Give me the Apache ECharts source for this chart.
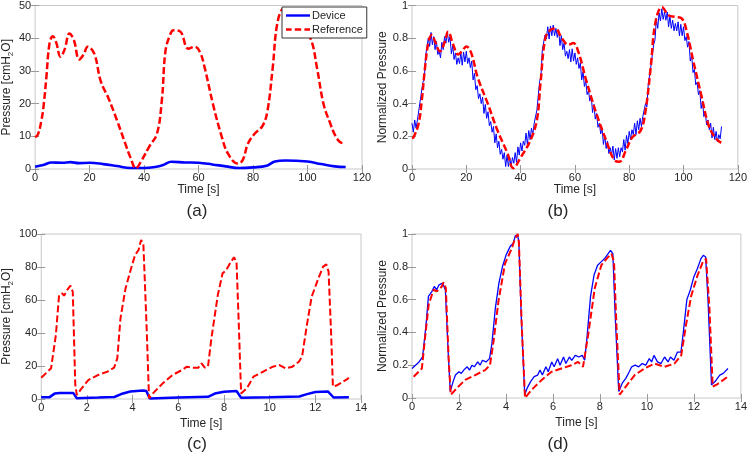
<!DOCTYPE html>
<html>
<head>
<meta charset="utf-8">
<script src="https://cdn.jsdelivr.net/npm/echarts@6/dist/echarts.min.js"></script>
<style>
  html, body { margin: 0; padding: 0; background: #fff; }
  #main { width: 750px; height: 455px; }
</style>
</head>
<body>
<div id="main"></div>
<script>
// ---- (a) pressure over a slow breathing run, cmH2O ----
const refA = [
  [0, 9.7], [1, 10.5], [2.3, 14.8], [3.2, 20], [4.1, 27.8], [5.3, 38.5], [6.5, 40.6], [7.8, 38.5],
  [9.3, 34.3], [10.8, 36.5], [12.6, 41.4], [14.2, 39.5], [16.2, 33.5], [17.8, 35], [19.3, 37.4],
  [21.7, 35.3], [24.1, 26.8], [27, 21.5], [30, 15], [33, 8], [35, 3.5], [37, 0.2], [39, 2.5],
  [42, 7], [44.7, 10.7], [46.5, 20.8], [47.8, 35.8], [49.3, 40.5], [50.8, 42.4], [53.3, 42],
  [56.2, 36.8], [58.6, 37.4], [60.5, 35.8], [62.3, 30.8], [65.3, 19.8], [68.4, 10.2], [70.8, 4.7],
  [74.4, 1.7], [76.2, 2.7], [78.1, 7.7], [80.5, 10.7], [83.5, 13.2], [85.3, 17.8], [87.2, 30.8],
  [89, 44.9], [91.4, 49.1], [93, 48.8], [95, 46.5], [97.5, 43.5], [101.1, 39.9], [103.5, 30.8],
  [105.9, 19.8], [108.4, 13.8], [110.2, 10.2], [112, 8.2], [113.6, 7.9]
];
const devA = [
  [0, 0.7], [3, 1.2], [6, 2.0], [10, 1.9], [13, 2.1], [16, 1.8], [20, 1.9], [25, 1.5], [30, 0.9],
  [35, 0.3], [40, 0.3], [44, 0.6], [47, 1.2], [50, 2.2], [55, 2.0], [60, 1.9], [65, 1.4], [70, 0.8],
  [75, 0.3], [80, 0.5], [85, 1.0], [88, 2.3], [92, 2.6], [96, 2.5], [100, 2.3], [105, 1.5],
  [110, 0.8], [114, 0.6]
];

// ---- (b) normalized ----
const refB = [
  [0, 0.19], [0.6, 0.195], [2.4, 0.275], [3.6, 0.42], [4.8, 0.62], [6.1, 0.78], [7.3, 0.82],
  [8.5, 0.78], [10.3, 0.72], [12.1, 0.78], [13.3, 0.84], [15.2, 0.76], [17, 0.70], [18.4, 0.72],
  [20, 0.75], [21.8, 0.71], [24.2, 0.56], [27.9, 0.40], [31.5, 0.235], [35.2, 0.095], [37.3, 0.005],
  [40, 0.07], [43.6, 0.175], [46, 0.3], [47.3, 0.52], [49.1, 0.8], [50.9, 0.85], [52.7, 0.86],
  [55.2, 0.80], [57.6, 0.76], [59.4, 0.77], [61.2, 0.72], [64.2, 0.54], [67.9, 0.34], [71.5, 0.175],
  [74.5, 0.055], [76.4, 0.045], [78.8, 0.115], [81.2, 0.195], [84.2, 0.235], [86, 0.355],
  [87.9, 0.62], [89.7, 0.9], [92.1, 0.99], [94.5, 0.94], [97, 0.93], [99.4, 0.92], [101.2, 0.84],
  [103.6, 0.66], [106.7, 0.44], [109.1, 0.275], [111.5, 0.195], [113.9, 0.16]
];
// device trace, one sample every 0.5 s
const devBStep = 0.5;
const devB = [
  0.28, 0.225, 0.30, 0.25, 0.30, 0.29, 0.415, 0.41, 0.53, 0.545, 0.69, 0.695, 0.80, 0.75, 0.835, 0.76,
  0.81, 0.73, 0.78, 0.70, 0.72, 0.68, 0.775, 0.73, 0.81, 0.77, 0.84, 0.775, 0.81, 0.705, 0.755, 0.67,
  0.71, 0.64, 0.68, 0.645, 0.71, 0.635, 0.715, 0.655, 0.72, 0.645, 0.68, 0.62, 0.66, 0.545, 0.585, 0.485,
  0.51, 0.43, 0.46, 0.40, 0.44, 0.34, 0.395, 0.31, 0.35, 0.265, 0.29, 0.225, 0.26, 0.16, 0.215, 0.13,
  0.17, 0.09, 0.12, 0.06, 0.10, 0.015, 0.085, 0.015, 0.07, 0.015, 0.07, 0.035, 0.10, 0.04, 0.135, 0.085,
  0.16, 0.11, 0.17, 0.145, 0.22, 0.15, 0.235, 0.18, 0.25, 0.21, 0.28, 0.27, 0.36, 0.37, 0.535, 0.57,
  0.73, 0.72, 0.82, 0.795, 0.87, 0.795, 0.875, 0.815, 0.88, 0.815, 0.86, 0.805, 0.85, 0.755, 0.815, 0.73,
  0.77, 0.69, 0.72, 0.675, 0.73, 0.655, 0.735, 0.66, 0.71, 0.64, 0.68, 0.615, 0.65, 0.545, 0.595, 0.505,
  0.54, 0.455, 0.48, 0.415, 0.45, 0.345, 0.395, 0.305, 0.34, 0.255, 0.28, 0.215, 0.25, 0.15, 0.205, 0.125,
  0.17, 0.095, 0.13, 0.085, 0.14, 0.055, 0.125, 0.065, 0.13, 0.075, 0.13, 0.105, 0.18, 0.115, 0.205, 0.155,
  0.23, 0.18, 0.24, 0.21, 0.28, 0.21, 0.295, 0.24, 0.31, 0.26, 0.32, 0.31, 0.40, 0.38, 0.515, 0.51,
  0.63, 0.64, 0.76, 0.79, 0.92, 0.86, 0.955, 0.905, 0.98, 0.915, 0.96, 0.91, 0.96, 0.87, 0.935, 0.86,
  0.91, 0.845, 0.89, 0.845, 0.90, 0.815, 0.885, 0.815, 0.87, 0.785, 0.81, 0.745, 0.78, 0.66, 0.695, 0.59,
  0.61, 0.515, 0.53, 0.455, 0.48, 0.37, 0.415, 0.32, 0.35, 0.27, 0.30, 0.24, 0.28, 0.19, 0.255, 0.18,
  0.23, 0.165, 0.21, 0.185, 0.26
];

// ---- (c) pressure, fast cycles ----
const refC = [
  [0, 12.9], [0.43, 18.6], [0.64, 38.8], [0.78, 63], [0.92, 64], [1.0, 62.6], [1.13, 66],
  [1.28, 68.7], [1.38, 65], [1.49, 8.5], [1.56, 2.4], [1.77, 6.5], [2.06, 11.5], [2.48, 14.5],
  [2.9, 16.6], [3.19, 19], [3.33, 24.6], [3.47, 49], [3.69, 67], [3.97, 81], [4.11, 87.3],
  [4.26, 90.3], [4.37, 96.4], [4.47, 94.3], [4.61, 44.8], [4.72, 0.4], [4.89, 3.4], [5.32, 9.5],
  [5.74, 14.5], [6.17, 17.6], [6.38, 19.6], [6.6, 19], [6.88, 19], [7.02, 21.6], [7.16, 19],
  [7.3, 19.6], [7.45, 36.8], [7.73, 63], [7.94, 76.2], [8.09, 78], [8.3, 83], [8.44, 85.9],
  [8.55, 83], [8.65, 44.8], [8.75, 3.4], [9.0, 6.5], [9.29, 13.5], [9.72, 16.6], [10.14, 19.6],
  [10.43, 20.6], [10.7, 18.6], [11, 19.6], [11.28, 22.6], [11.42, 25.7], [11.63, 44.8],
  [11.84, 62], [12.13, 73], [12.34, 80.2], [12.48, 81.6], [12.58, 77.2], [12.7, 36.8],
  [12.77, 7.5], [12.98, 8.5], [13.4, 12.1], [13.47, 12.9]
];
const devC = [
  [0, 1.0], [0.35, 1.0], [0.6, 3.4], [0.8, 3.7], [1.4, 3.7], [1.55, 0.5], [2.5, 0.9], [3.2, 1.2],
  [3.5, 3.0], [3.9, 4.5], [4.45, 5.2], [4.6, 4.8], [4.75, 0.3], [6, 0.9], [7.3, 1.3], [7.6, 3.3],
  [8.0, 4.4], [8.55, 4.8], [8.75, 0.8], [10, 1.1], [11.3, 1.5], [11.6, 2.8], [12.0, 4.2],
  [12.55, 4.6], [12.8, 0.9], [13.47, 1.0]
];

// ---- (d) normalized ----
const refD = [
  [0.07, 0.13], [0.42, 0.18], [0.57, 0.385], [0.71, 0.57], [0.92, 0.66], [1.06, 0.65], [1.27, 0.68],
  [1.34, 0.705], [1.44, 0.67], [1.56, 0.24], [1.65, 0.02], [1.91, 0.06], [2.26, 0.11], [2.69, 0.14],
  [3.11, 0.17], [3.32, 0.2], [3.47, 0.345], [3.68, 0.59], [3.96, 0.82], [4.24, 0.91], [4.38, 0.97],
  [4.5, 1.0], [4.55, 0.95], [4.67, 0.45], [4.81, 0.0], [5.09, 0.05], [5.52, 0.11], [5.94, 0.16],
  [6.36, 0.18], [6.79, 0.2], [7.07, 0.22], [7.28, 0.19], [7.5, 0.385], [7.78, 0.67], [8.06, 0.81],
  [8.35, 0.86], [8.49, 0.88], [8.6, 0.83], [8.7, 0.45], [8.84, 0.02], [9.05, 0.06], [9.48, 0.14],
  [9.9, 0.18], [10.33, 0.21], [10.75, 0.19], [11.17, 0.21], [11.46, 0.26], [11.67, 0.45],
  [11.88, 0.62], [12.16, 0.75], [12.38, 0.83], [12.52, 0.85], [12.66, 0.55], [12.8, 0.07],
  [13.01, 0.085], [13.44, 0.13]
];
const devD = [
  [0, 0.18], [0.3, 0.22], [0.45, 0.25], [0.5, 0.25], [0.6, 0.45], [0.7, 0.62], [0.85, 0.65],
  [0.95, 0.68], [1.05, 0.66], [1.15, 0.69], [1.3, 0.70], [1.42, 0.66], [1.55, 0.25], [1.63, 0.04],
  [1.75, 0.1], [1.85, 0.14], [2.0, 0.16], [2.1, 0.15], [2.2, 0.17], [2.35, 0.19], [2.45, 0.17],
  [2.55, 0.2], [2.65, 0.19], [2.8, 0.22], [2.9, 0.2], [3.0, 0.23], [3.15, 0.22], [3.3, 0.24],
  [3.4, 0.33], [3.55, 0.55], [3.7, 0.7], [3.85, 0.8], [4.0, 0.87], [4.1, 0.9], [4.2, 0.93],
  [4.3, 0.94], [4.4, 0.99], [4.5, 0.99], [4.55, 0.95], [4.65, 0.5], [4.8, 0.02], [4.9, 0.06],
  [5.05, 0.1], [5.2, 0.13], [5.35, 0.14], [5.45, 0.17], [5.55, 0.14], [5.7, 0.19], [5.8, 0.16],
  [5.95, 0.22], [6.05, 0.19], [6.2, 0.24], [6.3, 0.2], [6.45, 0.25], [6.55, 0.21], [6.7, 0.25],
  [6.8, 0.23], [6.95, 0.26], [7.1, 0.25], [7.25, 0.26], [7.35, 0.23], [7.45, 0.37], [7.6, 0.62],
  [7.75, 0.75], [7.9, 0.81], [8.05, 0.83], [8.2, 0.85], [8.35, 0.88], [8.45, 0.9], [8.55, 0.88],
  [8.65, 0.5], [8.8, 0.04], [8.95, 0.09], [9.1, 0.12], [9.25, 0.16], [9.35, 0.19], [9.5, 0.2],
  [9.65, 0.19], [9.8, 0.21], [9.95, 0.2], [10.1, 0.24], [10.2, 0.22], [10.3, 0.26], [10.45, 0.22],
  [10.6, 0.21], [10.75, 0.25], [10.9, 0.22], [11.0, 0.25], [11.15, 0.23], [11.3, 0.28],
  [11.45, 0.28], [11.55, 0.4], [11.7, 0.6], [11.85, 0.66], [12.0, 0.74], [12.15, 0.79],
  [12.3, 0.85], [12.4, 0.87], [12.5, 0.86], [12.6, 0.6], [12.75, 0.08], [12.9, 0.1], [13.1, 0.14],
  [13.25, 0.15], [13.45, 0.18]
];

const panelLabels = ['(a)', '(b)', '(c)', '(d)'];
const xTitle = 'Time [s]';

const FONT = 'Liberation Sans, Arial, sans-serif';
const BOX = '#c8c8c8';
const TXT = '#262626';

// grid boxes in px
const grids = [
  { left: 32, top: 3, width: 330, height: 166 },
  { left: 412, top: 3, width: 330, height: 166 },
  { left: 32, top: 234, width: 329, height: 165 },
  { left: 412, top: 234, width: 330, height: 164 }
];

const pressName = '{a|Pressure [cmH}{s|2}{a|O]}';
const pressRich = {
  a: { fontSize: 12, fontFamily: FONT, color: TXT, lineHeight: 16 },
  s: { fontSize: 8, fontFamily: FONT, color: TXT, verticalAlign: 'bottom', lineHeight: 12 }
};

const xAxes = [];
const yAxes = [];
function addAxes(gi, xmax, xint, ymax, yint, yName, rich, yGap, xGap) {
  const tick = { show: true, inside: true, length: 4, lineStyle: { color: '#999' } };
  xAxes.push({
    type: 'value', gridIndex: gi, min: 0, max: xmax, interval: xint,
    axisLine: { show: false }, splitLine: { show: false }, axisTick: tick,
    axisLabel: { color: TXT, fontSize: 11, fontFamily: FONT, margin: 3 },
    name: xTitle, nameLocation: 'middle', nameGap: xGap,
    nameTextStyle: { color: TXT, fontSize: 12, fontFamily: FONT }
  });
  xAxes.push({
    type: 'value', gridIndex: gi, position: 'top', min: 0, max: xmax, interval: xint,
    axisLine: { show: false }, splitLine: { show: false }, axisTick: tick, axisLabel: { show: false }
  });
  yAxes.push({
    type: 'value', gridIndex: gi, min: 0, max: ymax, interval: yint,
    axisLine: { show: false }, splitLine: { show: false }, axisTick: tick,
    axisLabel: { color: TXT, fontSize: 11, fontFamily: FONT, margin: 4 },
    name: yName, nameLocation: 'middle', nameGap: yGap, nameRotate: 90,
    nameTextStyle: rich ? { rich: rich } : { color: TXT, fontSize: 12, fontFamily: FONT }
  });
  yAxes.push({
    type: 'value', gridIndex: gi, position: 'right', min: 0, max: ymax, interval: yint,
    axisLine: { show: false }, splitLine: { show: false }, axisTick: tick, axisLabel: { show: false }
  });
}
addAxes(0, 120, 20, 50, 10, pressName, pressRich, 20, 13);
addAxes(1, 120, 20, 1, 0.2, 'Normalized Pressure', null, 22, 13);
addAxes(2, 14, 2, 100, 20, pressName, pressRich, 22, 19);
addAxes(3, 14, 2, 1, 0.2, 'Normalized Pressure', null, 22, 19);

function line(name, gi, data, color, width, dashed, smooth) {
  return {
    type: 'line', name: name, xAxisIndex: gi * 2, yAxisIndex: gi * 2,
    data: data, symbol: 'none', smooth: smooth || false, silent: true,
    lineStyle: { color: color, width: width, type: dashed ? [7, 3] : 'solid' },
    itemStyle: { color: color }
  };
}

const devBData = devB.map((v, i) => [i * devBStep, v]);

const series = [
  line('Device', 0, devA, '#0000ff', 2.6, false, 0.4),
  line('Reference', 0, refA, '#ff0000', 2.5, true, 0.4),
  line('Device', 1, devBData, '#0000ff', 1, false, false),
  line('Reference', 1, refB, '#ff0000', 2.5, true, 0.4),
  line('Device', 2, devC, '#0000ff', 2.5, false, false),
  line('Reference', 2, refC, '#ff0000', 2, true, false),
  line('Device', 3, devD, '#0000ff', 1.3, false, false),
  line('Reference', 3, refD, '#ff0000', 2, true, false)
];

const labelPos = [[197, 203], [558, 203], [197, 436], [558, 436]];

const chart = echarts.init(document.getElementById('main'));
chart.setOption({
  animation: false,
  backgroundColor: '#fff',
  title: panelLabels.map((t, i) => ({
    text: t, left: labelPos[i][0], top: labelPos[i][1], textAlign: 'center', padding: 0,
    textStyle: { fontSize: 17, fontWeight: 'normal', color: TXT, fontFamily: FONT }
  })),
  legend: {
    data: [
      { name: 'Device', icon: 'path://M0,0h30v3h-30z' },
      { name: 'Reference', icon: 'path://M0,0h7v3h-7z M11,0h8v3h-8z M23,0h7v3h-7z' }
    ],
    orient: 'vertical', left: 282, top: 7,
    backgroundColor: '#fff', borderColor: '#333', borderWidth: 1, borderRadius: 0,
    padding: [3, 4, 3, 4], itemGap: 3, itemWidth: 24, itemHeight: 3,
    textStyle: { fontSize: 11, color: TXT, fontFamily: FONT, padding: [0, 0, 0, -3] }
  },
  grid: grids.map(g => Object.assign({ show: true, borderColor: BOX, borderWidth: 1, backgroundColor: '#fff' }, g)),
  xAxis: xAxes,
  yAxis: yAxes,
  series: series
});
</script>
</body>
</html>
